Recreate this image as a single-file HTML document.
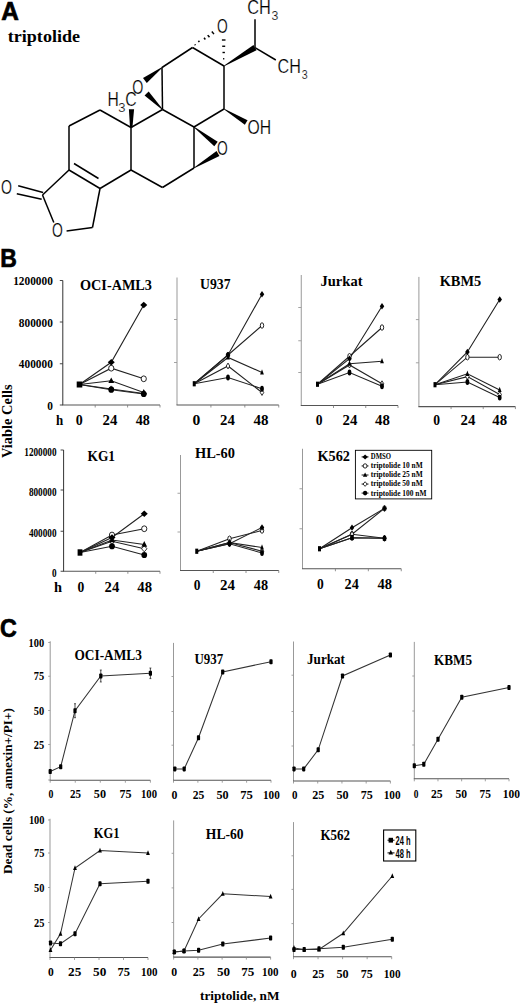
<!DOCTYPE html><html><head><meta charset="utf-8"><title>Triptolide figure</title><style>
html,body{margin:0;padding:0;background:#fff;width:520px;height:1004px;overflow:hidden}
svg{display:block}
.serif{font-family:"Liberation Serif",serif;font-weight:bold}
.sans{font-family:"Liberation Sans",sans-serif;font-weight:bold}
</style></head><body>
<svg width="520" height="1004" viewBox="0 0 520 1004">
<rect width="520" height="1004" fill="#fff"/>
<text x="1.30" y="19.50" class="sans" font-size="25.5" textLength="17.60" lengthAdjust="spacingAndGlyphs" stroke="#000" stroke-width="0.7">A</text>
<text x="7.80" y="42.40" class="serif" font-size="17" textLength="72.20" lengthAdjust="spacingAndGlyphs">triptolide</text>
<line x1="100.00" y1="110.00" x2="69.00" y2="126.00" stroke="#000" stroke-width="1.5"/>
<line x1="69.00" y1="126.00" x2="69.00" y2="170.00" stroke="#000" stroke-width="1.5"/>
<line x1="69.00" y1="170.00" x2="100.00" y2="188.50" stroke="#000" stroke-width="1.5"/>
<line x1="100.00" y1="188.50" x2="131.00" y2="170.00" stroke="#000" stroke-width="1.5"/>
<line x1="131.00" y1="170.00" x2="131.00" y2="127.50" stroke="#000" stroke-width="1.5"/>
<line x1="131.00" y1="127.50" x2="100.00" y2="110.00" stroke="#000" stroke-width="1.5"/>
<line x1="131.00" y1="127.50" x2="162.50" y2="109.50" stroke="#000" stroke-width="1.5"/>
<line x1="162.50" y1="109.50" x2="194.00" y2="127.00" stroke="#000" stroke-width="1.5"/>
<line x1="194.00" y1="127.00" x2="194.00" y2="168.00" stroke="#000" stroke-width="1.5"/>
<line x1="194.00" y1="168.00" x2="162.50" y2="187.50" stroke="#000" stroke-width="1.5"/>
<line x1="162.50" y1="187.50" x2="131.00" y2="170.00" stroke="#000" stroke-width="1.5"/>
<line x1="162.50" y1="109.50" x2="162.00" y2="67.50" stroke="#000" stroke-width="1.5"/>
<line x1="162.00" y1="67.50" x2="192.50" y2="47.50" stroke="#000" stroke-width="1.5"/>
<line x1="192.50" y1="47.50" x2="224.00" y2="66.00" stroke="#000" stroke-width="1.5"/>
<line x1="224.00" y1="66.00" x2="224.00" y2="109.00" stroke="#000" stroke-width="1.5"/>
<line x1="224.00" y1="109.00" x2="194.00" y2="127.00" stroke="#000" stroke-width="1.5"/>
<line x1="74.00" y1="163.50" x2="98.50" y2="178.50" stroke="#000" stroke-width="1.5"/>
<line x1="69.00" y1="170.00" x2="42.50" y2="195.00" stroke="#000" stroke-width="1.5"/>
<line x1="42.50" y1="195.00" x2="53.80" y2="222.50" stroke="#000" stroke-width="1.5"/>
<line x1="66.60" y1="230.90" x2="92.50" y2="227.50" stroke="#000" stroke-width="1.5"/>
<line x1="92.50" y1="227.50" x2="100.00" y2="188.50" stroke="#000" stroke-width="1.5"/>
<line x1="18.20" y1="185.80" x2="43.10" y2="192.50" stroke="#000" stroke-width="1.5"/>
<line x1="16.80" y1="193.80" x2="41.70" y2="199.20" stroke="#000" stroke-width="1.5"/>
<text x="1.01" y="194.30" class="sans" font-size="19.5" textLength="10.98" lengthAdjust="spacingAndGlyphs" style="font-weight:normal" stroke="#fff" stroke-width="0.22">O</text>
<text x="51.92" y="237.40" class="sans" font-size="19.5" textLength="10.86" lengthAdjust="spacingAndGlyphs" style="font-weight:normal" stroke="#fff" stroke-width="0.22">O</text>
<polygon points="130.00,127.50 128.90,109.20 134.10,109.20 132.40,127.50" fill="#000"/>
<text x="107.59" y="105.80" class="sans" font-size="19.5" textLength="11.31" lengthAdjust="spacingAndGlyphs" style="font-weight:normal" stroke="#fff" stroke-width="0.22">H</text>
<text x="118.36" y="111.70" class="sans" font-size="12.5" textLength="7.22" lengthAdjust="spacingAndGlyphs" style="font-weight:normal" stroke="#fff" stroke-width="0.22">3</text>
<text x="125.19" y="105.90" class="sans" font-size="19.5" textLength="11.42" lengthAdjust="spacingAndGlyphs" style="font-weight:normal" stroke="#fff" stroke-width="0.22">C</text>
<text x="132.31" y="93.50" class="sans" font-size="19.5" textLength="11.09" lengthAdjust="spacingAndGlyphs" style="font-weight:normal" stroke="#fff" stroke-width="0.22">O</text>
<polygon points="161.76,67.18 143.02,78.03 146.78,82.97 162.24,67.82" fill="#000"/>
<polygon points="162.78,109.22 148.66,91.46 144.54,95.54 162.22,109.78" fill="#000"/>
<text x="216.92" y="32.60" class="sans" font-size="19.5" textLength="10.75" lengthAdjust="spacingAndGlyphs" style="font-weight:normal" stroke="#fff" stroke-width="0.22">O</text>
<line x1="194.79" y1="44.40" x2="195.41" y2="45.20" stroke="#000" stroke-width="1.5"/>
<line x1="198.41" y1="40.77" x2="199.39" y2="42.03" stroke="#000" stroke-width="1.5"/>
<line x1="204.03" y1="37.73" x2="205.37" y2="39.47" stroke="#000" stroke-width="1.5"/>
<line x1="207.74" y1="35.09" x2="209.46" y2="37.31" stroke="#000" stroke-width="1.5"/>
<line x1="211.86" y1="31.46" x2="213.94" y2="34.14" stroke="#000" stroke-width="1.5"/>
<line x1="223.10" y1="58.75" x2="224.30" y2="58.75" stroke="#000" stroke-width="1.4"/>
<line x1="222.50" y1="52.50" x2="224.90" y2="52.50" stroke="#000" stroke-width="1.4"/>
<line x1="222.20" y1="46.25" x2="225.20" y2="46.25" stroke="#000" stroke-width="1.4"/>
<line x1="221.90" y1="40.00" x2="225.50" y2="40.00" stroke="#000" stroke-width="1.4"/>
<polygon points="224.20,66.34 256.53,50.28 253.47,45.12 223.80,65.66" fill="#000"/>
<line x1="255.00" y1="47.70" x2="255.00" y2="19.20" stroke="#000" stroke-width="1.5"/>
<line x1="255.00" y1="47.70" x2="275.80" y2="60.00" stroke="#000" stroke-width="1.5"/>
<text x="247.23" y="14.10" class="sans" font-size="19.5" textLength="23.63" lengthAdjust="spacingAndGlyphs" style="font-weight:normal" stroke="#fff" stroke-width="0.22">CH</text>
<text x="271.53" y="20.00" class="sans" font-size="12.5" textLength="6.83" lengthAdjust="spacingAndGlyphs" style="font-weight:normal" stroke="#fff" stroke-width="0.22">3</text>
<text x="277.55" y="72.60" class="sans" font-size="19.5" textLength="23.30" lengthAdjust="spacingAndGlyphs" style="font-weight:normal" stroke="#fff" stroke-width="0.22">CH</text>
<text x="301.68" y="78.50" class="sans" font-size="12.5" textLength="5.94" lengthAdjust="spacingAndGlyphs" style="font-weight:normal" stroke="#fff" stroke-width="0.22">3</text>
<polygon points="223.79,109.34 244.85,124.72 247.55,120.28 224.21,108.66" fill="#000"/>
<text x="247.43" y="133.50" class="sans" font-size="19.5" textLength="23.63" lengthAdjust="spacingAndGlyphs" style="font-weight:normal" stroke="#fff" stroke-width="0.22">OH</text>
<text x="216.92" y="154.70" class="sans" font-size="19.5" textLength="10.75" lengthAdjust="spacingAndGlyphs" style="font-weight:normal" stroke="#fff" stroke-width="0.22">O</text>
<polygon points="193.76,127.32 214.29,146.22 217.71,141.78 194.24,126.68" fill="#000"/>
<polygon points="194.21,168.34 219.45,155.90 216.55,151.10 193.79,167.66" fill="#000"/>
<text x="0.20" y="266.90" class="sans" font-size="25.5" textLength="16.60" lengthAdjust="spacingAndGlyphs" stroke="#000" stroke-width="0.7">B</text>
<line x1="62.80" y1="280.50" x2="62.80" y2="405.00" stroke="#333" stroke-width="1.0"/>
<line x1="62.30" y1="405.00" x2="160.00" y2="405.00" stroke="#555" stroke-width="1.1"/>
<line x1="59.80" y1="280.50" x2="62.80" y2="280.50" stroke="#333" stroke-width="0.9"/>
<line x1="59.80" y1="322.00" x2="62.80" y2="322.00" stroke="#333" stroke-width="0.9"/>
<line x1="59.80" y1="363.75" x2="62.80" y2="363.75" stroke="#333" stroke-width="0.9"/>
<line x1="59.80" y1="405.00" x2="62.80" y2="405.00" stroke="#333" stroke-width="0.9"/>
<line x1="95.20" y1="405.00" x2="95.20" y2="407.50" stroke="#777" stroke-width="0.8"/>
<line x1="127.60" y1="405.00" x2="127.60" y2="407.50" stroke="#777" stroke-width="0.8"/>
<line x1="160.00" y1="405.00" x2="160.00" y2="407.50" stroke="#777" stroke-width="0.8"/>
<text x="80.00" y="289.80" class="serif" font-size="14" textLength="72.00" lengthAdjust="spacingAndGlyphs">OCI-AML3</text>
<polyline points="79.50,384.50 111.25,362.30 143.75,305.00" fill="none" stroke="#222" stroke-width="1.1"/>
<polyline points="79.50,384.50 111.25,368.20 143.75,378.80" fill="none" stroke="#222" stroke-width="1.1"/>
<polyline points="79.50,384.50 111.25,380.80 143.75,392.50" fill="none" stroke="#222" stroke-width="1.1"/>
<polyline points="79.50,384.50 111.25,389.00 143.75,393.50" fill="none" stroke="#222" stroke-width="1.1"/>
<polyline points="79.50,384.50 111.25,389.70 143.75,394.00" fill="none" stroke="#222" stroke-width="1.1"/>
<ellipse cx="111.25" cy="368.20" rx="2.60" ry="2.90" fill="#fff" stroke="#000" stroke-width="0.85"/>
<ellipse cx="143.75" cy="378.80" rx="2.60" ry="2.90" fill="#fff" stroke="#000" stroke-width="0.85"/>
<polygon points="111.25,385.90 113.95,389.00 111.25,392.10 108.55,389.00" fill="#fff" stroke="#000" stroke-width="0.8"/>
<polygon points="143.75,390.40 146.45,393.50 143.75,396.60 141.05,393.50" fill="#fff" stroke="#000" stroke-width="0.8"/>
<polygon points="111.25,377.40 114.15,383.00 108.35,383.00" fill="#000"/>
<polygon points="143.75,389.10 146.65,394.70 140.85,394.70" fill="#000"/>
<polygon points="111.25,359.00 114.75,362.30 111.25,365.60 107.75,362.30" fill="#000"/>
<polygon points="143.75,301.70 147.25,305.00 143.75,308.30 140.25,305.00" fill="#000"/>
<ellipse cx="111.25" cy="389.70" rx="2.90" ry="3.10" fill="#000"/>
<ellipse cx="143.75" cy="394.00" rx="2.90" ry="3.10" fill="#000"/>
<rect x="76.70" y="381.50" width="5.60" height="6.00" fill="#000"/>
<line x1="177.00" y1="277.50" x2="177.00" y2="405.00" stroke="#999" stroke-width="1.0"/>
<line x1="176.50" y1="405.00" x2="278.75" y2="405.00" stroke="#555" stroke-width="1.1"/>
<line x1="174.00" y1="319.50" x2="177.00" y2="319.50" stroke="#999" stroke-width="0.9"/>
<line x1="174.00" y1="362.50" x2="177.00" y2="362.50" stroke="#999" stroke-width="0.9"/>
<line x1="210.92" y1="405.00" x2="210.92" y2="407.50" stroke="#777" stroke-width="0.8"/>
<line x1="244.83" y1="405.00" x2="244.83" y2="407.50" stroke="#777" stroke-width="0.8"/>
<line x1="278.75" y1="405.00" x2="278.75" y2="407.50" stroke="#777" stroke-width="0.8"/>
<text x="200.00" y="288.80" class="serif" font-size="14" textLength="30.50" lengthAdjust="spacingAndGlyphs">U937</text>
<polyline points="194.25,383.75 228.00,355.00 262.00,294.25" fill="none" stroke="#222" stroke-width="1.1"/>
<polyline points="194.25,383.75 228.00,355.00 262.00,325.50" fill="none" stroke="#222" stroke-width="1.1"/>
<polyline points="194.25,383.75 228.00,357.50 262.00,372.50" fill="none" stroke="#222" stroke-width="1.1"/>
<polyline points="194.25,383.75 228.00,366.00 262.00,392.50" fill="none" stroke="#222" stroke-width="1.1"/>
<polyline points="194.25,383.75 228.00,377.50 262.00,388.75" fill="none" stroke="#222" stroke-width="1.1"/>
<ellipse cx="228.00" cy="355.00" rx="1.69" ry="2.75" fill="#fff" stroke="#000" stroke-width="0.85"/>
<ellipse cx="262.00" cy="325.50" rx="1.69" ry="2.75" fill="#fff" stroke="#000" stroke-width="0.85"/>
<polygon points="228.00,363.06 229.75,366.00 228.00,368.94 226.25,366.00" fill="#fff" stroke="#000" stroke-width="0.8"/>
<polygon points="262.00,389.56 263.75,392.50 262.00,395.44 260.25,392.50" fill="#fff" stroke="#000" stroke-width="0.8"/>
<polygon points="228.00,354.27 229.88,359.59 226.12,359.59" fill="#000"/>
<polygon points="262.00,369.27 263.88,374.59 260.12,374.59" fill="#000"/>
<polygon points="228.00,351.87 230.28,355.00 228.00,358.13 225.72,355.00" fill="#000"/>
<polygon points="262.00,291.12 264.27,294.25 262.00,297.38 259.73,294.25" fill="#000"/>
<ellipse cx="228.00" cy="377.50" rx="1.89" ry="2.94" fill="#000"/>
<ellipse cx="262.00" cy="388.75" rx="1.89" ry="2.94" fill="#000"/>
<rect x="192.75" y="381.15" width="3.00" height="5.20" fill="#000"/>
<line x1="301.25" y1="275.00" x2="301.25" y2="405.50" stroke="#999" stroke-width="1.0"/>
<line x1="300.75" y1="405.50" x2="398.00" y2="405.50" stroke="#555" stroke-width="1.1"/>
<line x1="298.25" y1="307.50" x2="301.25" y2="307.50" stroke="#999" stroke-width="0.9"/>
<line x1="298.25" y1="340.75" x2="301.25" y2="340.75" stroke="#999" stroke-width="0.9"/>
<line x1="298.25" y1="372.50" x2="301.25" y2="372.50" stroke="#999" stroke-width="0.9"/>
<line x1="333.50" y1="405.50" x2="333.50" y2="408.00" stroke="#777" stroke-width="0.8"/>
<line x1="365.75" y1="405.50" x2="365.75" y2="408.00" stroke="#777" stroke-width="0.8"/>
<line x1="398.00" y1="405.50" x2="398.00" y2="408.00" stroke="#777" stroke-width="0.8"/>
<text x="320.50" y="286.00" class="serif" font-size="14" textLength="42.00" lengthAdjust="spacingAndGlyphs">Jurkat</text>
<polyline points="317.50,384.25 349.50,358.75 382.00,306.25" fill="none" stroke="#222" stroke-width="1.1"/>
<polyline points="317.50,384.25 349.50,356.25 382.00,327.50" fill="none" stroke="#222" stroke-width="1.1"/>
<polyline points="317.50,384.25 349.50,363.75 382.00,361.25" fill="none" stroke="#222" stroke-width="1.1"/>
<polyline points="317.50,384.25 349.50,365.00 382.00,383.75" fill="none" stroke="#222" stroke-width="1.1"/>
<polyline points="317.50,384.25 349.50,372.50 382.00,386.25" fill="none" stroke="#222" stroke-width="1.1"/>
<ellipse cx="349.50" cy="356.25" rx="1.69" ry="2.75" fill="#fff" stroke="#000" stroke-width="0.85"/>
<ellipse cx="382.00" cy="327.50" rx="1.69" ry="2.75" fill="#fff" stroke="#000" stroke-width="0.85"/>
<polygon points="349.50,362.06 351.25,365.00 349.50,367.94 347.75,365.00" fill="#fff" stroke="#000" stroke-width="0.8"/>
<polygon points="382.00,380.81 383.75,383.75 382.00,386.69 380.25,383.75" fill="#fff" stroke="#000" stroke-width="0.8"/>
<polygon points="349.50,360.52 351.38,365.84 347.62,365.84" fill="#000"/>
<polygon points="382.00,358.02 383.88,363.34 380.12,363.34" fill="#000"/>
<polygon points="349.50,355.62 351.77,358.75 349.50,361.88 347.23,358.75" fill="#000"/>
<polygon points="382.00,303.12 384.27,306.25 382.00,309.38 379.73,306.25" fill="#000"/>
<ellipse cx="349.50" cy="372.50" rx="1.89" ry="2.94" fill="#000"/>
<ellipse cx="382.00" cy="386.25" rx="1.89" ry="2.94" fill="#000"/>
<rect x="316.00" y="381.65" width="3.00" height="5.20" fill="#000"/>
<line x1="418.90" y1="276.90" x2="418.90" y2="406.60" stroke="#999" stroke-width="1.0"/>
<line x1="418.40" y1="406.60" x2="515.40" y2="406.60" stroke="#555" stroke-width="1.1"/>
<line x1="415.90" y1="319.60" x2="418.90" y2="319.60" stroke="#999" stroke-width="0.9"/>
<line x1="415.90" y1="362.80" x2="418.90" y2="362.80" stroke="#999" stroke-width="0.9"/>
<line x1="451.07" y1="406.60" x2="451.07" y2="409.10" stroke="#777" stroke-width="0.8"/>
<line x1="483.23" y1="406.60" x2="483.23" y2="409.10" stroke="#777" stroke-width="0.8"/>
<line x1="515.40" y1="406.60" x2="515.40" y2="409.10" stroke="#777" stroke-width="0.8"/>
<text x="439.70" y="285.80" class="serif" font-size="14" textLength="41.50" lengthAdjust="spacingAndGlyphs">KBM5</text>
<polyline points="435.00,384.70 467.40,352.00 499.70,299.50" fill="none" stroke="#222" stroke-width="1.1"/>
<polyline points="435.00,384.70 467.40,357.20 499.70,357.20" fill="none" stroke="#222" stroke-width="1.1"/>
<polyline points="435.00,384.70 467.40,373.80 499.70,390.00" fill="none" stroke="#222" stroke-width="1.1"/>
<polyline points="435.00,384.70 467.40,376.60 499.70,394.60" fill="none" stroke="#222" stroke-width="1.1"/>
<polyline points="435.00,384.70 467.40,382.00 499.70,397.60" fill="none" stroke="#222" stroke-width="1.1"/>
<ellipse cx="467.40" cy="357.20" rx="1.69" ry="2.75" fill="#fff" stroke="#000" stroke-width="0.85"/>
<ellipse cx="499.70" cy="357.20" rx="1.69" ry="2.75" fill="#fff" stroke="#000" stroke-width="0.85"/>
<polygon points="467.40,373.66 469.15,376.60 467.40,379.55 465.64,376.60" fill="#fff" stroke="#000" stroke-width="0.8"/>
<polygon points="499.70,391.66 501.45,394.60 499.70,397.55 497.94,394.60" fill="#fff" stroke="#000" stroke-width="0.8"/>
<polygon points="467.40,370.57 469.28,375.89 465.51,375.89" fill="#000"/>
<polygon points="499.70,386.77 501.58,392.09 497.81,392.09" fill="#000"/>
<polygon points="467.40,348.87 469.67,352.00 467.40,355.13 465.12,352.00" fill="#000"/>
<polygon points="499.70,296.37 501.97,299.50 499.70,302.63 497.43,299.50" fill="#000"/>
<ellipse cx="467.40" cy="382.00" rx="1.89" ry="2.94" fill="#000"/>
<ellipse cx="499.70" cy="397.60" rx="1.89" ry="2.94" fill="#000"/>
<rect x="433.50" y="382.10" width="3.00" height="5.20" fill="#000"/>
<text x="13.18" y="285.10" class="serif" font-size="11.5" textLength="39.62" lengthAdjust="spacingAndGlyphs">1200000</text>
<text x="18.84" y="326.60" class="serif" font-size="11.5" textLength="33.96" lengthAdjust="spacingAndGlyphs">800000</text>
<text x="18.84" y="368.35" class="serif" font-size="11.5" textLength="33.96" lengthAdjust="spacingAndGlyphs">400000</text>
<text x="47.14" y="409.60" class="serif" font-size="11.5" textLength="5.66" lengthAdjust="spacingAndGlyphs">0</text>
<text x="55.90" y="425.00" class="serif" font-size="14" textLength="7.20" lengthAdjust="spacingAndGlyphs">h</text>
<text x="75.80" y="425.00" class="serif" font-size="14" textLength="7.00" lengthAdjust="spacingAndGlyphs">0</text>
<text x="102.50" y="425.00" class="serif" font-size="14" textLength="14.80" lengthAdjust="spacingAndGlyphs">24</text>
<text x="135.70" y="425.00" class="serif" font-size="14" textLength="14.10" lengthAdjust="spacingAndGlyphs">48</text>
<text x="192.50" y="425.00" class="serif" font-size="14" textLength="7.80" lengthAdjust="spacingAndGlyphs">0</text>
<text x="220.00" y="425.00" class="serif" font-size="14" textLength="14.80" lengthAdjust="spacingAndGlyphs">24</text>
<text x="253.40" y="425.00" class="serif" font-size="14" textLength="15.00" lengthAdjust="spacingAndGlyphs">48</text>
<text x="315.80" y="425.00" class="serif" font-size="14" textLength="6.80" lengthAdjust="spacingAndGlyphs">0</text>
<text x="342.50" y="425.00" class="serif" font-size="14" textLength="14.80" lengthAdjust="spacingAndGlyphs">24</text>
<text x="375.00" y="425.00" class="serif" font-size="14" textLength="14.80" lengthAdjust="spacingAndGlyphs">48</text>
<text x="433.30" y="425.00" class="serif" font-size="14" textLength="6.80" lengthAdjust="spacingAndGlyphs">0</text>
<text x="460.50" y="425.00" class="serif" font-size="14" textLength="14.80" lengthAdjust="spacingAndGlyphs">24</text>
<text x="492.30" y="425.00" class="serif" font-size="14" textLength="14.80" lengthAdjust="spacingAndGlyphs">48</text>
<line x1="63.60" y1="450.00" x2="63.60" y2="571.25" stroke="#333" stroke-width="1.0"/>
<line x1="63.10" y1="571.25" x2="160.00" y2="571.25" stroke="#555" stroke-width="1.1"/>
<line x1="60.60" y1="450.00" x2="63.60" y2="450.00" stroke="#333" stroke-width="0.9"/>
<line x1="60.60" y1="490.00" x2="63.60" y2="490.00" stroke="#333" stroke-width="0.9"/>
<line x1="60.60" y1="531.25" x2="63.60" y2="531.25" stroke="#333" stroke-width="0.9"/>
<line x1="60.60" y1="571.25" x2="63.60" y2="571.25" stroke="#333" stroke-width="0.9"/>
<line x1="95.73" y1="571.25" x2="95.73" y2="573.75" stroke="#777" stroke-width="0.8"/>
<line x1="127.87" y1="571.25" x2="127.87" y2="573.75" stroke="#777" stroke-width="0.8"/>
<line x1="160.00" y1="571.25" x2="160.00" y2="573.75" stroke="#777" stroke-width="0.8"/>
<text x="87.50" y="460.60" class="serif" font-size="14" textLength="27.50" lengthAdjust="spacingAndGlyphs">KG1</text>
<polyline points="80.00,552.50 112.00,537.50 144.25,513.75" fill="none" stroke="#222" stroke-width="1.1"/>
<polyline points="80.00,552.50 112.00,535.00 144.25,528.75" fill="none" stroke="#222" stroke-width="1.1"/>
<polyline points="80.00,552.50 112.00,540.00 144.25,544.50" fill="none" stroke="#222" stroke-width="1.1"/>
<polyline points="80.00,552.50 112.00,541.25 144.25,548.75" fill="none" stroke="#222" stroke-width="1.1"/>
<polyline points="80.00,552.50 112.00,546.25 144.25,555.00" fill="none" stroke="#222" stroke-width="1.1"/>
<ellipse cx="112.00" cy="535.00" rx="2.60" ry="2.90" fill="#fff" stroke="#000" stroke-width="0.85"/>
<ellipse cx="144.25" cy="528.75" rx="2.60" ry="2.90" fill="#fff" stroke="#000" stroke-width="0.85"/>
<polygon points="112.00,538.15 114.70,541.25 112.00,544.35 109.30,541.25" fill="#fff" stroke="#000" stroke-width="0.8"/>
<polygon points="144.25,545.65 146.95,548.75 144.25,551.85 141.55,548.75" fill="#fff" stroke="#000" stroke-width="0.8"/>
<polygon points="112.00,536.60 114.90,542.20 109.10,542.20" fill="#000"/>
<polygon points="144.25,541.10 147.15,546.70 141.35,546.70" fill="#000"/>
<polygon points="112.00,534.20 115.50,537.50 112.00,540.80 108.50,537.50" fill="#000"/>
<polygon points="144.25,510.45 147.75,513.75 144.25,517.05 140.75,513.75" fill="#000"/>
<ellipse cx="112.00" cy="546.25" rx="2.90" ry="3.10" fill="#000"/>
<ellipse cx="144.25" cy="555.00" rx="2.90" ry="3.10" fill="#000"/>
<rect x="77.60" y="549.30" width="4.80" height="6.40" fill="#000"/>
<line x1="180.50" y1="455.00" x2="180.50" y2="570.50" stroke="#999" stroke-width="1.0"/>
<line x1="180.00" y1="570.50" x2="278.75" y2="570.50" stroke="#555" stroke-width="1.1"/>
<line x1="177.50" y1="493.25" x2="180.50" y2="493.25" stroke="#999" stroke-width="0.9"/>
<line x1="177.50" y1="532.00" x2="180.50" y2="532.00" stroke="#999" stroke-width="0.9"/>
<line x1="213.25" y1="570.50" x2="213.25" y2="573.00" stroke="#777" stroke-width="0.8"/>
<line x1="246.00" y1="570.50" x2="246.00" y2="573.00" stroke="#777" stroke-width="0.8"/>
<line x1="278.75" y1="570.50" x2="278.75" y2="573.00" stroke="#777" stroke-width="0.8"/>
<text x="195.00" y="458.20" class="serif" font-size="14" textLength="40.00" lengthAdjust="spacingAndGlyphs">HL-60</text>
<polyline points="196.75,551.25 229.50,543.75 262.00,527.50" fill="none" stroke="#222" stroke-width="1.1"/>
<polyline points="196.75,551.25 229.50,538.75 262.00,530.50" fill="none" stroke="#222" stroke-width="1.1"/>
<polyline points="196.75,551.25 229.50,542.50 262.00,547.50" fill="none" stroke="#222" stroke-width="1.1"/>
<polyline points="196.75,551.25 229.50,542.50 262.00,551.25" fill="none" stroke="#222" stroke-width="1.1"/>
<polyline points="196.75,551.25 229.50,543.75 262.00,553.00" fill="none" stroke="#222" stroke-width="1.1"/>
<ellipse cx="229.50" cy="538.75" rx="1.69" ry="2.75" fill="#fff" stroke="#000" stroke-width="0.85"/>
<ellipse cx="262.00" cy="530.50" rx="1.69" ry="2.75" fill="#fff" stroke="#000" stroke-width="0.85"/>
<polygon points="229.50,539.55 231.25,542.50 229.50,545.45 227.75,542.50" fill="#fff" stroke="#000" stroke-width="0.8"/>
<polygon points="262.00,548.30 263.75,551.25 262.00,554.20 260.25,551.25" fill="#fff" stroke="#000" stroke-width="0.8"/>
<polygon points="229.50,539.27 231.38,544.59 227.62,544.59" fill="#000"/>
<polygon points="262.00,544.27 263.88,549.59 260.12,549.59" fill="#000"/>
<polygon points="229.50,540.62 231.78,543.75 229.50,546.88 227.22,543.75" fill="#000"/>
<polygon points="262.00,524.37 264.27,527.50 262.00,530.63 259.73,527.50" fill="#000"/>
<ellipse cx="229.50" cy="543.75" rx="1.89" ry="2.94" fill="#000"/>
<ellipse cx="262.00" cy="553.00" rx="1.89" ry="2.94" fill="#000"/>
<rect x="195.25" y="548.65" width="3.00" height="5.20" fill="#000"/>
<line x1="302.50" y1="448.75" x2="302.50" y2="568.75" stroke="#999" stroke-width="1.0"/>
<line x1="302.00" y1="568.75" x2="401.25" y2="568.75" stroke="#555" stroke-width="1.1"/>
<line x1="299.50" y1="488.75" x2="302.50" y2="488.75" stroke="#999" stroke-width="0.9"/>
<line x1="299.50" y1="528.75" x2="302.50" y2="528.75" stroke="#999" stroke-width="0.9"/>
<line x1="335.42" y1="568.75" x2="335.42" y2="571.25" stroke="#777" stroke-width="0.8"/>
<line x1="368.33" y1="568.75" x2="368.33" y2="571.25" stroke="#777" stroke-width="0.8"/>
<line x1="401.25" y1="568.75" x2="401.25" y2="571.25" stroke="#777" stroke-width="0.8"/>
<text x="317.50" y="461.40" class="serif" font-size="14" textLength="32.50" lengthAdjust="spacingAndGlyphs">K562</text>
<polyline points="319.50,548.75 352.00,527.70 384.50,508.40" fill="none" stroke="#222" stroke-width="1.1"/>
<polyline points="319.50,548.75 352.00,534.20 384.50,508.40" fill="none" stroke="#222" stroke-width="1.1"/>
<polyline points="319.50,548.75 352.00,537.80 384.50,538.30" fill="none" stroke="#222" stroke-width="1.1"/>
<polyline points="319.50,548.75 352.00,534.20 384.50,538.30" fill="none" stroke="#222" stroke-width="1.1"/>
<polyline points="319.50,548.75 352.00,537.80 384.50,538.30" fill="none" stroke="#222" stroke-width="1.1"/>
<ellipse cx="352.00" cy="534.20" rx="1.69" ry="2.75" fill="#fff" stroke="#000" stroke-width="0.85"/>
<ellipse cx="384.50" cy="508.40" rx="1.69" ry="2.75" fill="#fff" stroke="#000" stroke-width="0.85"/>
<polygon points="352.00,531.25 353.75,534.20 352.00,537.15 350.25,534.20" fill="#fff" stroke="#000" stroke-width="0.8"/>
<polygon points="384.50,535.35 386.25,538.30 384.50,541.25 382.75,538.30" fill="#fff" stroke="#000" stroke-width="0.8"/>
<polygon points="352.00,534.57 353.88,539.89 350.12,539.89" fill="#000"/>
<polygon points="384.50,535.07 386.38,540.39 382.62,540.39" fill="#000"/>
<polygon points="352.00,524.57 354.27,527.70 352.00,530.84 349.73,527.70" fill="#000"/>
<polygon points="384.50,505.26 386.77,508.40 384.50,511.53 382.23,508.40" fill="#000"/>
<ellipse cx="352.00" cy="537.80" rx="1.89" ry="2.94" fill="#000"/>
<ellipse cx="384.50" cy="538.30" rx="1.89" ry="2.94" fill="#000"/>
<rect x="318.00" y="546.15" width="3.00" height="5.20" fill="#000"/>
<text x="24.30" y="455.50" class="serif" font-size="13.5" textLength="32.20" lengthAdjust="spacingAndGlyphs">1200000</text>
<text x="28.90" y="496.30" class="serif" font-size="13.5" textLength="27.60" lengthAdjust="spacingAndGlyphs">800000</text>
<text x="28.90" y="536.50" class="serif" font-size="13.5" textLength="27.60" lengthAdjust="spacingAndGlyphs">400000</text>
<text x="51.90" y="576.70" class="serif" font-size="13.5" textLength="4.60" lengthAdjust="spacingAndGlyphs">0</text>
<text x="54.00" y="592.00" class="serif" font-size="14" textLength="8.00" lengthAdjust="spacingAndGlyphs">h</text>
<text x="77.50" y="592.00" class="serif" font-size="14" textLength="6.80" lengthAdjust="spacingAndGlyphs">0</text>
<text x="104.60" y="592.00" class="serif" font-size="14" textLength="14.70" lengthAdjust="spacingAndGlyphs">24</text>
<text x="137.30" y="592.00" class="serif" font-size="14" textLength="14.70" lengthAdjust="spacingAndGlyphs">48</text>
<text x="193.75" y="590.00" class="serif" font-size="14" textLength="6.75" lengthAdjust="spacingAndGlyphs">0</text>
<text x="220.00" y="590.00" class="serif" font-size="14" textLength="15.00" lengthAdjust="spacingAndGlyphs">24</text>
<text x="253.75" y="590.00" class="serif" font-size="14" textLength="14.25" lengthAdjust="spacingAndGlyphs">48</text>
<text x="317.00" y="588.80" class="serif" font-size="14" textLength="6.75" lengthAdjust="spacingAndGlyphs">0</text>
<text x="344.50" y="588.80" class="serif" font-size="14" textLength="14.25" lengthAdjust="spacingAndGlyphs">24</text>
<text x="377.50" y="588.80" class="serif" font-size="14" textLength="14.50" lengthAdjust="spacingAndGlyphs">48</text>
<rect x="355.4" y="450.3" width="76.3" height="48.6" fill="#fff" stroke="#000" stroke-width="0.9"/>
<line x1="361.60" y1="456.90" x2="368.50" y2="456.90" stroke="#000" stroke-width="0.9"/>
<polygon points="365.10,454.42 367.73,456.90 365.10,459.38 362.48,456.90" fill="#000"/>
<text x="370.80" y="459.30" class="serif" font-size="8.2" textLength="20.20" lengthAdjust="spacingAndGlyphs">DMSO</text>
<line x1="361.60" y1="465.95" x2="368.50" y2="465.95" stroke="#000" stroke-width="0.9"/>
<ellipse cx="365.10" cy="465.95" rx="1.95" ry="2.17" fill="#fff" stroke="#000" stroke-width="0.85"/>
<text x="370.80" y="468.35" class="serif" font-size="8.2" textLength="51.90" lengthAdjust="spacingAndGlyphs">triptolide 10 nM</text>
<line x1="361.60" y1="475.00" x2="368.50" y2="475.00" stroke="#000" stroke-width="0.9"/>
<polygon points="365.10,472.45 367.28,476.65 362.93,476.65" fill="#000"/>
<text x="370.80" y="477.40" class="serif" font-size="8.2" textLength="51.90" lengthAdjust="spacingAndGlyphs">triptolide 25 nM</text>
<line x1="361.60" y1="484.05" x2="368.50" y2="484.05" stroke="#000" stroke-width="0.9"/>
<polygon points="365.10,481.72 367.12,484.05 365.10,486.37 363.08,484.05" fill="#fff" stroke="#000" stroke-width="0.8"/>
<text x="370.80" y="486.45" class="serif" font-size="8.2" textLength="51.90" lengthAdjust="spacingAndGlyphs">triptolide 50 nM</text>
<line x1="361.60" y1="493.10" x2="368.50" y2="493.10" stroke="#000" stroke-width="0.9"/>
<ellipse cx="365.10" cy="493.10" rx="2.17" ry="2.33" fill="#000"/>
<text x="370.80" y="495.50" class="serif" font-size="8.2" textLength="55.70" lengthAdjust="spacingAndGlyphs">triptolide 100 nM</text>
<text transform="translate(12,458) rotate(-90)" class="serif" font-size="15" textLength="73.5" lengthAdjust="spacingAndGlyphs">Viable Cells</text>
<text x="0.00" y="636.90" class="sans" font-size="25.5" textLength="16.80" lengthAdjust="spacingAndGlyphs" stroke="#000" stroke-width="0.7">C</text>
<line x1="50.20" y1="641.25" x2="50.20" y2="780.20" stroke="#999" stroke-width="1.0"/>
<line x1="49.70" y1="780.20" x2="150.40" y2="780.20" stroke="#555" stroke-width="1.1"/>
<line x1="48.20" y1="642.50" x2="50.20" y2="642.50" stroke="#999" stroke-width="0.9"/>
<line x1="48.20" y1="676.25" x2="50.20" y2="676.25" stroke="#999" stroke-width="0.9"/>
<line x1="48.20" y1="710.50" x2="50.20" y2="710.50" stroke="#999" stroke-width="0.9"/>
<line x1="48.20" y1="744.50" x2="50.20" y2="744.50" stroke="#999" stroke-width="0.9"/>
<line x1="48.20" y1="780.00" x2="50.20" y2="780.00" stroke="#999" stroke-width="0.9"/>
<line x1="50.20" y1="780.20" x2="50.20" y2="782.70" stroke="#888" stroke-width="0.8"/>
<line x1="75.25" y1="780.20" x2="75.25" y2="782.70" stroke="#888" stroke-width="0.8"/>
<line x1="100.30" y1="780.20" x2="100.30" y2="782.70" stroke="#888" stroke-width="0.8"/>
<line x1="125.35" y1="780.20" x2="125.35" y2="782.70" stroke="#888" stroke-width="0.8"/>
<line x1="150.40" y1="780.20" x2="150.40" y2="782.70" stroke="#888" stroke-width="0.8"/>
<text x="74.50" y="660.40" class="serif" font-size="14" textLength="67.30" lengthAdjust="spacingAndGlyphs">OCI-AML3</text>
<polyline points="50.20,771.60 60.70,766.70 75.00,710.70 100.80,676.00 150.40,673.30" fill="none" stroke="#333" stroke-width="1.05"/>
<rect x="48.60" y="769.10" width="3.2" height="5.0" rx="0.8" fill="#000"/>
<rect x="59.10" y="764.20" width="3.2" height="5.0" rx="0.8" fill="#000"/>
<line x1="75.00" y1="703.70" x2="75.00" y2="717.70" stroke="#000" stroke-width="0.7"/>
<line x1="74.00" y1="703.70" x2="76.00" y2="703.70" stroke="#000" stroke-width="0.6"/>
<line x1="74.00" y1="717.70" x2="76.00" y2="717.70" stroke="#000" stroke-width="0.6"/>
<rect x="73.40" y="708.20" width="3.2" height="5.0" rx="0.8" fill="#000"/>
<line x1="100.80" y1="670.00" x2="100.80" y2="682.00" stroke="#000" stroke-width="0.7"/>
<line x1="99.80" y1="670.00" x2="101.80" y2="670.00" stroke="#000" stroke-width="0.6"/>
<line x1="99.80" y1="682.00" x2="101.80" y2="682.00" stroke="#000" stroke-width="0.6"/>
<rect x="99.20" y="673.50" width="3.2" height="5.0" rx="0.8" fill="#000"/>
<line x1="150.40" y1="668.00" x2="150.40" y2="678.60" stroke="#000" stroke-width="0.7"/>
<line x1="149.40" y1="668.00" x2="151.40" y2="668.00" stroke="#000" stroke-width="0.6"/>
<line x1="149.40" y1="678.60" x2="151.40" y2="678.60" stroke="#000" stroke-width="0.6"/>
<rect x="148.80" y="670.80" width="3.2" height="5.0" rx="0.8" fill="#000"/>
<text x="48.60" y="797.70" class="serif" font-size="11.5" textLength="4.90" lengthAdjust="spacingAndGlyphs">0</text>
<text x="70.00" y="797.70" class="serif" font-size="11.5" textLength="11.00" lengthAdjust="spacingAndGlyphs">25</text>
<text x="93.80" y="797.70" class="serif" font-size="11.5" textLength="12.20" lengthAdjust="spacingAndGlyphs">50</text>
<text x="119.40" y="797.70" class="serif" font-size="11.5" textLength="12.10" lengthAdjust="spacingAndGlyphs">75</text>
<text x="141.00" y="797.70" class="serif" font-size="11.5" textLength="16.00" lengthAdjust="spacingAndGlyphs">100</text>
<line x1="173.50" y1="642.90" x2="173.50" y2="780.20" stroke="#999" stroke-width="1.0"/>
<line x1="173.00" y1="780.20" x2="271.00" y2="780.20" stroke="#555" stroke-width="1.1"/>
<line x1="171.50" y1="676.50" x2="173.50" y2="676.50" stroke="#999" stroke-width="0.9"/>
<line x1="171.50" y1="711.50" x2="173.50" y2="711.50" stroke="#999" stroke-width="0.9"/>
<line x1="171.50" y1="745.20" x2="173.50" y2="745.20" stroke="#999" stroke-width="0.9"/>
<line x1="173.50" y1="780.20" x2="173.50" y2="782.70" stroke="#888" stroke-width="0.8"/>
<line x1="197.88" y1="780.20" x2="197.88" y2="782.70" stroke="#888" stroke-width="0.8"/>
<line x1="222.25" y1="780.20" x2="222.25" y2="782.70" stroke="#888" stroke-width="0.8"/>
<line x1="246.62" y1="780.20" x2="246.62" y2="782.70" stroke="#888" stroke-width="0.8"/>
<line x1="271.00" y1="780.20" x2="271.00" y2="782.70" stroke="#888" stroke-width="0.8"/>
<text x="194.50" y="664.40" class="serif" font-size="14" textLength="28.80" lengthAdjust="spacingAndGlyphs">U937</text>
<polyline points="174.80,768.90 184.20,768.90 198.50,737.70 222.70,672.00 271.00,661.70" fill="none" stroke="#333" stroke-width="1.05"/>
<rect x="173.20" y="766.40" width="3.2" height="5.0" rx="0.8" fill="#000"/>
<rect x="182.60" y="766.40" width="3.2" height="5.0" rx="0.8" fill="#000"/>
<rect x="196.90" y="735.20" width="3.2" height="5.0" rx="0.8" fill="#000"/>
<rect x="221.10" y="669.50" width="3.2" height="5.0" rx="0.8" fill="#000"/>
<rect x="269.40" y="659.20" width="3.2" height="5.0" rx="0.8" fill="#000"/>
<text x="171.60" y="799.00" class="serif" font-size="11.5" textLength="5.90" lengthAdjust="spacingAndGlyphs">0</text>
<text x="192.80" y="799.00" class="serif" font-size="11.5" textLength="11.60" lengthAdjust="spacingAndGlyphs">25</text>
<text x="216.50" y="799.00" class="serif" font-size="11.5" textLength="12.20" lengthAdjust="spacingAndGlyphs">50</text>
<text x="240.20" y="799.00" class="serif" font-size="11.5" textLength="12.70" lengthAdjust="spacingAndGlyphs">75</text>
<text x="263.00" y="799.00" class="serif" font-size="11.5" textLength="16.80" lengthAdjust="spacingAndGlyphs">100</text>
<line x1="293.50" y1="641.50" x2="293.50" y2="781.00" stroke="#999" stroke-width="1.0"/>
<line x1="293.00" y1="781.00" x2="390.40" y2="781.00" stroke="#555" stroke-width="1.1"/>
<line x1="291.50" y1="675.20" x2="293.50" y2="675.20" stroke="#999" stroke-width="0.9"/>
<line x1="291.50" y1="711.50" x2="293.50" y2="711.50" stroke="#999" stroke-width="0.9"/>
<line x1="291.50" y1="746.00" x2="293.50" y2="746.00" stroke="#999" stroke-width="0.9"/>
<line x1="293.50" y1="781.00" x2="293.50" y2="783.50" stroke="#888" stroke-width="0.8"/>
<line x1="317.73" y1="781.00" x2="317.73" y2="783.50" stroke="#888" stroke-width="0.8"/>
<line x1="341.95" y1="781.00" x2="341.95" y2="783.50" stroke="#888" stroke-width="0.8"/>
<line x1="366.17" y1="781.00" x2="366.17" y2="783.50" stroke="#888" stroke-width="0.8"/>
<line x1="390.40" y1="781.00" x2="390.40" y2="783.50" stroke="#888" stroke-width="0.8"/>
<text x="307.00" y="663.50" class="serif" font-size="14" textLength="38.00" lengthAdjust="spacingAndGlyphs">Jurkat</text>
<polyline points="294.00,768.90 303.70,768.90 318.20,749.80 342.50,676.00 390.40,655.00" fill="none" stroke="#333" stroke-width="1.05"/>
<rect x="292.40" y="766.40" width="3.2" height="5.0" rx="0.8" fill="#000"/>
<rect x="302.10" y="766.40" width="3.2" height="5.0" rx="0.8" fill="#000"/>
<rect x="316.60" y="747.30" width="3.2" height="5.0" rx="0.8" fill="#000"/>
<rect x="340.90" y="673.50" width="3.2" height="5.0" rx="0.8" fill="#000"/>
<rect x="388.80" y="652.50" width="3.2" height="5.0" rx="0.8" fill="#000"/>
<text x="292.00" y="799.00" class="serif" font-size="11.5" textLength="5.50" lengthAdjust="spacingAndGlyphs">0</text>
<text x="312.30" y="799.00" class="serif" font-size="11.5" textLength="12.10" lengthAdjust="spacingAndGlyphs">25</text>
<text x="336.50" y="799.00" class="serif" font-size="11.5" textLength="12.20" lengthAdjust="spacingAndGlyphs">50</text>
<text x="360.80" y="799.00" class="serif" font-size="11.5" textLength="12.10" lengthAdjust="spacingAndGlyphs">75</text>
<text x="383.70" y="799.00" class="serif" font-size="11.5" textLength="16.90" lengthAdjust="spacingAndGlyphs">100</text>
<line x1="414.30" y1="641.90" x2="414.30" y2="778.80" stroke="#999" stroke-width="1.0"/>
<line x1="413.80" y1="778.80" x2="509.00" y2="778.80" stroke="#555" stroke-width="1.1"/>
<line x1="412.30" y1="676.00" x2="414.30" y2="676.00" stroke="#999" stroke-width="0.9"/>
<line x1="412.30" y1="711.00" x2="414.30" y2="711.00" stroke="#999" stroke-width="0.9"/>
<line x1="412.30" y1="745.00" x2="414.30" y2="745.00" stroke="#999" stroke-width="0.9"/>
<line x1="414.30" y1="778.80" x2="414.30" y2="781.30" stroke="#888" stroke-width="0.8"/>
<line x1="437.98" y1="778.80" x2="437.98" y2="781.30" stroke="#888" stroke-width="0.8"/>
<line x1="461.65" y1="778.80" x2="461.65" y2="781.30" stroke="#888" stroke-width="0.8"/>
<line x1="485.32" y1="778.80" x2="485.32" y2="781.30" stroke="#888" stroke-width="0.8"/>
<line x1="509.00" y1="778.80" x2="509.00" y2="781.30" stroke="#888" stroke-width="0.8"/>
<text x="434.00" y="665.00" class="serif" font-size="14" textLength="38.00" lengthAdjust="spacingAndGlyphs">KBM5</text>
<polyline points="414.30,765.80 423.80,764.20 438.00,739.30 461.80,697.30 509.00,687.60" fill="none" stroke="#333" stroke-width="1.05"/>
<rect x="412.70" y="763.30" width="3.2" height="5.0" rx="0.8" fill="#000"/>
<rect x="422.20" y="761.70" width="3.2" height="5.0" rx="0.8" fill="#000"/>
<rect x="436.40" y="736.80" width="3.2" height="5.0" rx="0.8" fill="#000"/>
<rect x="460.20" y="694.80" width="3.2" height="5.0" rx="0.8" fill="#000"/>
<rect x="507.40" y="685.10" width="3.2" height="5.0" rx="0.8" fill="#000"/>
<text x="413.80" y="797.70" class="serif" font-size="11.5" textLength="4.70" lengthAdjust="spacingAndGlyphs">0</text>
<text x="431.00" y="797.70" class="serif" font-size="11.5" textLength="11.70" lengthAdjust="spacingAndGlyphs">25</text>
<text x="455.40" y="797.70" class="serif" font-size="11.5" textLength="11.60" lengthAdjust="spacingAndGlyphs">50</text>
<text x="479.60" y="797.70" class="serif" font-size="11.5" textLength="11.40" lengthAdjust="spacingAndGlyphs">75</text>
<text x="502.70" y="797.70" class="serif" font-size="11.5" textLength="17.30" lengthAdjust="spacingAndGlyphs">100</text>
<text x="28.60" y="646.60" class="serif" font-size="12" textLength="15.60" lengthAdjust="spacingAndGlyphs">100</text>
<text x="33.80" y="680.35" class="serif" font-size="12" textLength="10.40" lengthAdjust="spacingAndGlyphs">75</text>
<text x="33.80" y="714.60" class="serif" font-size="12" textLength="10.40" lengthAdjust="spacingAndGlyphs">50</text>
<text x="33.80" y="748.60" class="serif" font-size="12" textLength="10.40" lengthAdjust="spacingAndGlyphs">25</text>
<line x1="50.00" y1="818.75" x2="50.00" y2="957.50" stroke="#999" stroke-width="1.0"/>
<line x1="49.50" y1="957.50" x2="148.00" y2="957.50" stroke="#555" stroke-width="1.1"/>
<line x1="48.00" y1="820.00" x2="50.00" y2="820.00" stroke="#999" stroke-width="0.9"/>
<line x1="48.00" y1="853.00" x2="50.00" y2="853.00" stroke="#999" stroke-width="0.9"/>
<line x1="48.00" y1="887.50" x2="50.00" y2="887.50" stroke="#999" stroke-width="0.9"/>
<line x1="48.00" y1="922.50" x2="50.00" y2="922.50" stroke="#999" stroke-width="0.9"/>
<line x1="50.00" y1="957.50" x2="50.00" y2="960.00" stroke="#888" stroke-width="0.8"/>
<line x1="74.50" y1="957.50" x2="74.50" y2="960.00" stroke="#888" stroke-width="0.8"/>
<line x1="99.00" y1="957.50" x2="99.00" y2="960.00" stroke="#888" stroke-width="0.8"/>
<line x1="123.50" y1="957.50" x2="123.50" y2="960.00" stroke="#888" stroke-width="0.8"/>
<line x1="148.00" y1="957.50" x2="148.00" y2="960.00" stroke="#888" stroke-width="0.8"/>
<text x="93.75" y="837.50" class="serif" font-size="14" textLength="25.75" lengthAdjust="spacingAndGlyphs">KG1</text>
<polyline points="50.50,950.00 60.50,933.75 75.00,868.00 100.00,850.50 148.00,853.00" fill="none" stroke="#333" stroke-width="1.05"/>
<polygon points="50.50,947.20 52.40,951.90 48.60,951.90" fill="#000"/>
<polygon points="60.50,930.95 62.40,935.65 58.60,935.65" fill="#000"/>
<polygon points="75.00,865.20 76.90,869.90 73.10,869.90" fill="#000"/>
<polygon points="100.00,847.70 101.90,852.40 98.10,852.40" fill="#000"/>
<polygon points="148.00,850.20 149.90,854.90 146.10,854.90" fill="#000"/>
<polyline points="50.50,943.00 60.50,943.75 75.00,933.75 100.00,883.75 148.00,881.30" fill="none" stroke="#333" stroke-width="1.05"/>
<rect x="48.90" y="940.50" width="3.2" height="5.0" rx="0.8" fill="#000"/>
<rect x="58.90" y="941.25" width="3.2" height="5.0" rx="0.8" fill="#000"/>
<rect x="73.40" y="931.25" width="3.2" height="5.0" rx="0.8" fill="#000"/>
<rect x="98.40" y="881.25" width="3.2" height="5.0" rx="0.8" fill="#000"/>
<rect x="146.40" y="878.80" width="3.2" height="5.0" rx="0.8" fill="#000"/>
<text x="48.00" y="976.30" class="serif" font-size="11.5" textLength="5.75" lengthAdjust="spacingAndGlyphs">0</text>
<text x="68.00" y="976.30" class="serif" font-size="11.5" textLength="13.25" lengthAdjust="spacingAndGlyphs">25</text>
<text x="93.00" y="976.30" class="serif" font-size="11.5" textLength="13.25" lengthAdjust="spacingAndGlyphs">50</text>
<text x="117.50" y="976.30" class="serif" font-size="11.5" textLength="12.50" lengthAdjust="spacingAndGlyphs">75</text>
<text x="141.00" y="976.30" class="serif" font-size="11.5" textLength="16.50" lengthAdjust="spacingAndGlyphs">100</text>
<line x1="173.65" y1="820.40" x2="173.65" y2="957.10" stroke="#999" stroke-width="1.0"/>
<line x1="173.15" y1="957.10" x2="270.60" y2="957.10" stroke="#555" stroke-width="1.1"/>
<line x1="171.65" y1="853.30" x2="173.65" y2="853.30" stroke="#999" stroke-width="0.9"/>
<line x1="171.65" y1="887.90" x2="173.65" y2="887.90" stroke="#999" stroke-width="0.9"/>
<line x1="171.65" y1="922.50" x2="173.65" y2="922.50" stroke="#999" stroke-width="0.9"/>
<line x1="173.65" y1="957.10" x2="173.65" y2="959.60" stroke="#888" stroke-width="0.8"/>
<line x1="197.89" y1="957.10" x2="197.89" y2="959.60" stroke="#888" stroke-width="0.8"/>
<line x1="222.12" y1="957.10" x2="222.12" y2="959.60" stroke="#888" stroke-width="0.8"/>
<line x1="246.36" y1="957.10" x2="246.36" y2="959.60" stroke="#888" stroke-width="0.8"/>
<line x1="270.60" y1="957.10" x2="270.60" y2="959.60" stroke="#888" stroke-width="0.8"/>
<text x="205.80" y="839.40" class="serif" font-size="14" textLength="37.80" lengthAdjust="spacingAndGlyphs">HL-60</text>
<polyline points="174.30,952.00 184.00,950.90 198.60,919.00 222.80,893.80 270.60,896.50" fill="none" stroke="#333" stroke-width="1.05"/>
<polygon points="174.30,949.20 176.20,953.90 172.40,953.90" fill="#000"/>
<polygon points="184.00,948.10 185.90,952.80 182.10,952.80" fill="#000"/>
<polygon points="198.60,916.20 200.50,920.90 196.70,920.90" fill="#000"/>
<polygon points="222.80,891.00 224.70,895.70 220.90,895.70" fill="#000"/>
<polygon points="270.60,893.70 272.50,898.40 268.70,898.40" fill="#000"/>
<polyline points="174.30,952.00 184.00,951.00 198.60,950.20 222.80,944.00 270.60,938.10" fill="none" stroke="#333" stroke-width="1.05"/>
<rect x="172.70" y="949.50" width="3.2" height="5.0" rx="0.8" fill="#000"/>
<rect x="182.40" y="948.50" width="3.2" height="5.0" rx="0.8" fill="#000"/>
<rect x="197.00" y="947.70" width="3.2" height="5.0" rx="0.8" fill="#000"/>
<rect x="221.20" y="941.50" width="3.2" height="5.0" rx="0.8" fill="#000"/>
<rect x="269.00" y="935.60" width="3.2" height="5.0" rx="0.8" fill="#000"/>
<text x="171.20" y="976.10" class="serif" font-size="11.5" textLength="5.90" lengthAdjust="spacingAndGlyphs">0</text>
<text x="192.70" y="976.10" class="serif" font-size="11.5" textLength="12.10" lengthAdjust="spacingAndGlyphs">25</text>
<text x="216.90" y="976.10" class="serif" font-size="11.5" textLength="13.10" lengthAdjust="spacingAndGlyphs">50</text>
<text x="241.20" y="976.10" class="serif" font-size="11.5" textLength="13.10" lengthAdjust="spacingAndGlyphs">75</text>
<text x="262.00" y="976.10" class="serif" font-size="11.5" textLength="16.50" lengthAdjust="spacingAndGlyphs">100</text>
<line x1="293.50" y1="822.10" x2="293.50" y2="956.70" stroke="#999" stroke-width="1.0"/>
<line x1="293.00" y1="956.70" x2="391.70" y2="956.70" stroke="#555" stroke-width="1.1"/>
<line x1="291.50" y1="855.80" x2="293.50" y2="855.80" stroke="#999" stroke-width="0.9"/>
<line x1="291.50" y1="889.40" x2="293.50" y2="889.40" stroke="#999" stroke-width="0.9"/>
<line x1="291.50" y1="923.60" x2="293.50" y2="923.60" stroke="#999" stroke-width="0.9"/>
<line x1="293.50" y1="956.70" x2="293.50" y2="959.20" stroke="#888" stroke-width="0.8"/>
<line x1="318.05" y1="956.70" x2="318.05" y2="959.20" stroke="#888" stroke-width="0.8"/>
<line x1="342.60" y1="956.70" x2="342.60" y2="959.20" stroke="#888" stroke-width="0.8"/>
<line x1="367.15" y1="956.70" x2="367.15" y2="959.20" stroke="#888" stroke-width="0.8"/>
<line x1="391.70" y1="956.70" x2="391.70" y2="959.20" stroke="#888" stroke-width="0.8"/>
<text x="320.40" y="839.60" class="serif" font-size="14" textLength="29.60" lengthAdjust="spacingAndGlyphs">K562</text>
<polyline points="294.00,947.90 304.20,949.50 319.00,949.50 343.30,933.30 392.30,876.00" fill="none" stroke="#333" stroke-width="1.05"/>
<polygon points="294.00,945.10 295.90,949.80 292.10,949.80" fill="#000"/>
<polygon points="304.20,946.70 306.10,951.40 302.30,951.40" fill="#000"/>
<polygon points="319.00,946.70 320.90,951.40 317.10,951.40" fill="#000"/>
<polygon points="343.30,930.50 345.20,935.20 341.40,935.20" fill="#000"/>
<polygon points="392.30,873.20 394.20,877.90 390.40,877.90" fill="#000"/>
<polyline points="294.00,949.50 304.20,949.50 319.00,948.70 343.30,947.30 392.30,939.20" fill="none" stroke="#333" stroke-width="1.05"/>
<rect x="292.40" y="947.00" width="3.2" height="5.0" rx="0.8" fill="#000"/>
<rect x="302.60" y="947.00" width="3.2" height="5.0" rx="0.8" fill="#000"/>
<rect x="317.40" y="946.20" width="3.2" height="5.0" rx="0.8" fill="#000"/>
<rect x="341.70" y="944.80" width="3.2" height="5.0" rx="0.8" fill="#000"/>
<rect x="390.70" y="936.70" width="3.2" height="5.0" rx="0.8" fill="#000"/>
<text x="290.80" y="977.50" class="serif" font-size="11.5" textLength="5.90" lengthAdjust="spacingAndGlyphs">0</text>
<text x="312.30" y="977.50" class="serif" font-size="11.5" textLength="12.10" lengthAdjust="spacingAndGlyphs">25</text>
<text x="336.50" y="977.50" class="serif" font-size="11.5" textLength="12.20" lengthAdjust="spacingAndGlyphs">50</text>
<text x="360.80" y="977.50" class="serif" font-size="11.5" textLength="12.10" lengthAdjust="spacingAndGlyphs">75</text>
<text x="383.70" y="977.50" class="serif" font-size="11.5" textLength="16.90" lengthAdjust="spacingAndGlyphs">100</text>
<text x="28.90" y="824.10" class="serif" font-size="12" textLength="15.60" lengthAdjust="spacingAndGlyphs">100</text>
<text x="34.10" y="857.10" class="serif" font-size="12" textLength="10.40" lengthAdjust="spacingAndGlyphs">75</text>
<text x="34.10" y="891.60" class="serif" font-size="12" textLength="10.40" lengthAdjust="spacingAndGlyphs">50</text>
<text x="34.10" y="926.60" class="serif" font-size="12" textLength="10.40" lengthAdjust="spacingAndGlyphs">25</text>
<rect x="383.6" y="830" width="32.2" height="31" fill="#fff" stroke="#000" stroke-width="1.1"/>
<line x1="387.50" y1="840.20" x2="394.50" y2="840.20" stroke="#000" stroke-width="1.0"/>
<rect x="388.6" y="837.8" width="4.4" height="4.8" fill="#000"/>
<line x1="387.50" y1="852.90" x2="394.50" y2="852.90" stroke="#000" stroke-width="1.0"/>
<polygon points="390.80,849.80 393.00,854.60 388.60,854.60" fill="#000"/>
<text x="395.60" y="844.80" class="sans" font-size="12.5" textLength="15.00" lengthAdjust="spacingAndGlyphs">24 h</text>
<text x="395.60" y="857.50" class="sans" font-size="12.5" textLength="15.00" lengthAdjust="spacingAndGlyphs">48 h</text>
<text transform="translate(12.3,874) rotate(-90)" class="serif" font-size="13" textLength="166" lengthAdjust="spacingAndGlyphs">Dead cells (%, annexin+/PI+)</text>
<text x="200.00" y="1000.40" class="serif" font-size="13.5" textLength="79.40" lengthAdjust="spacingAndGlyphs">triptolide, nM</text>
</svg></body></html>
